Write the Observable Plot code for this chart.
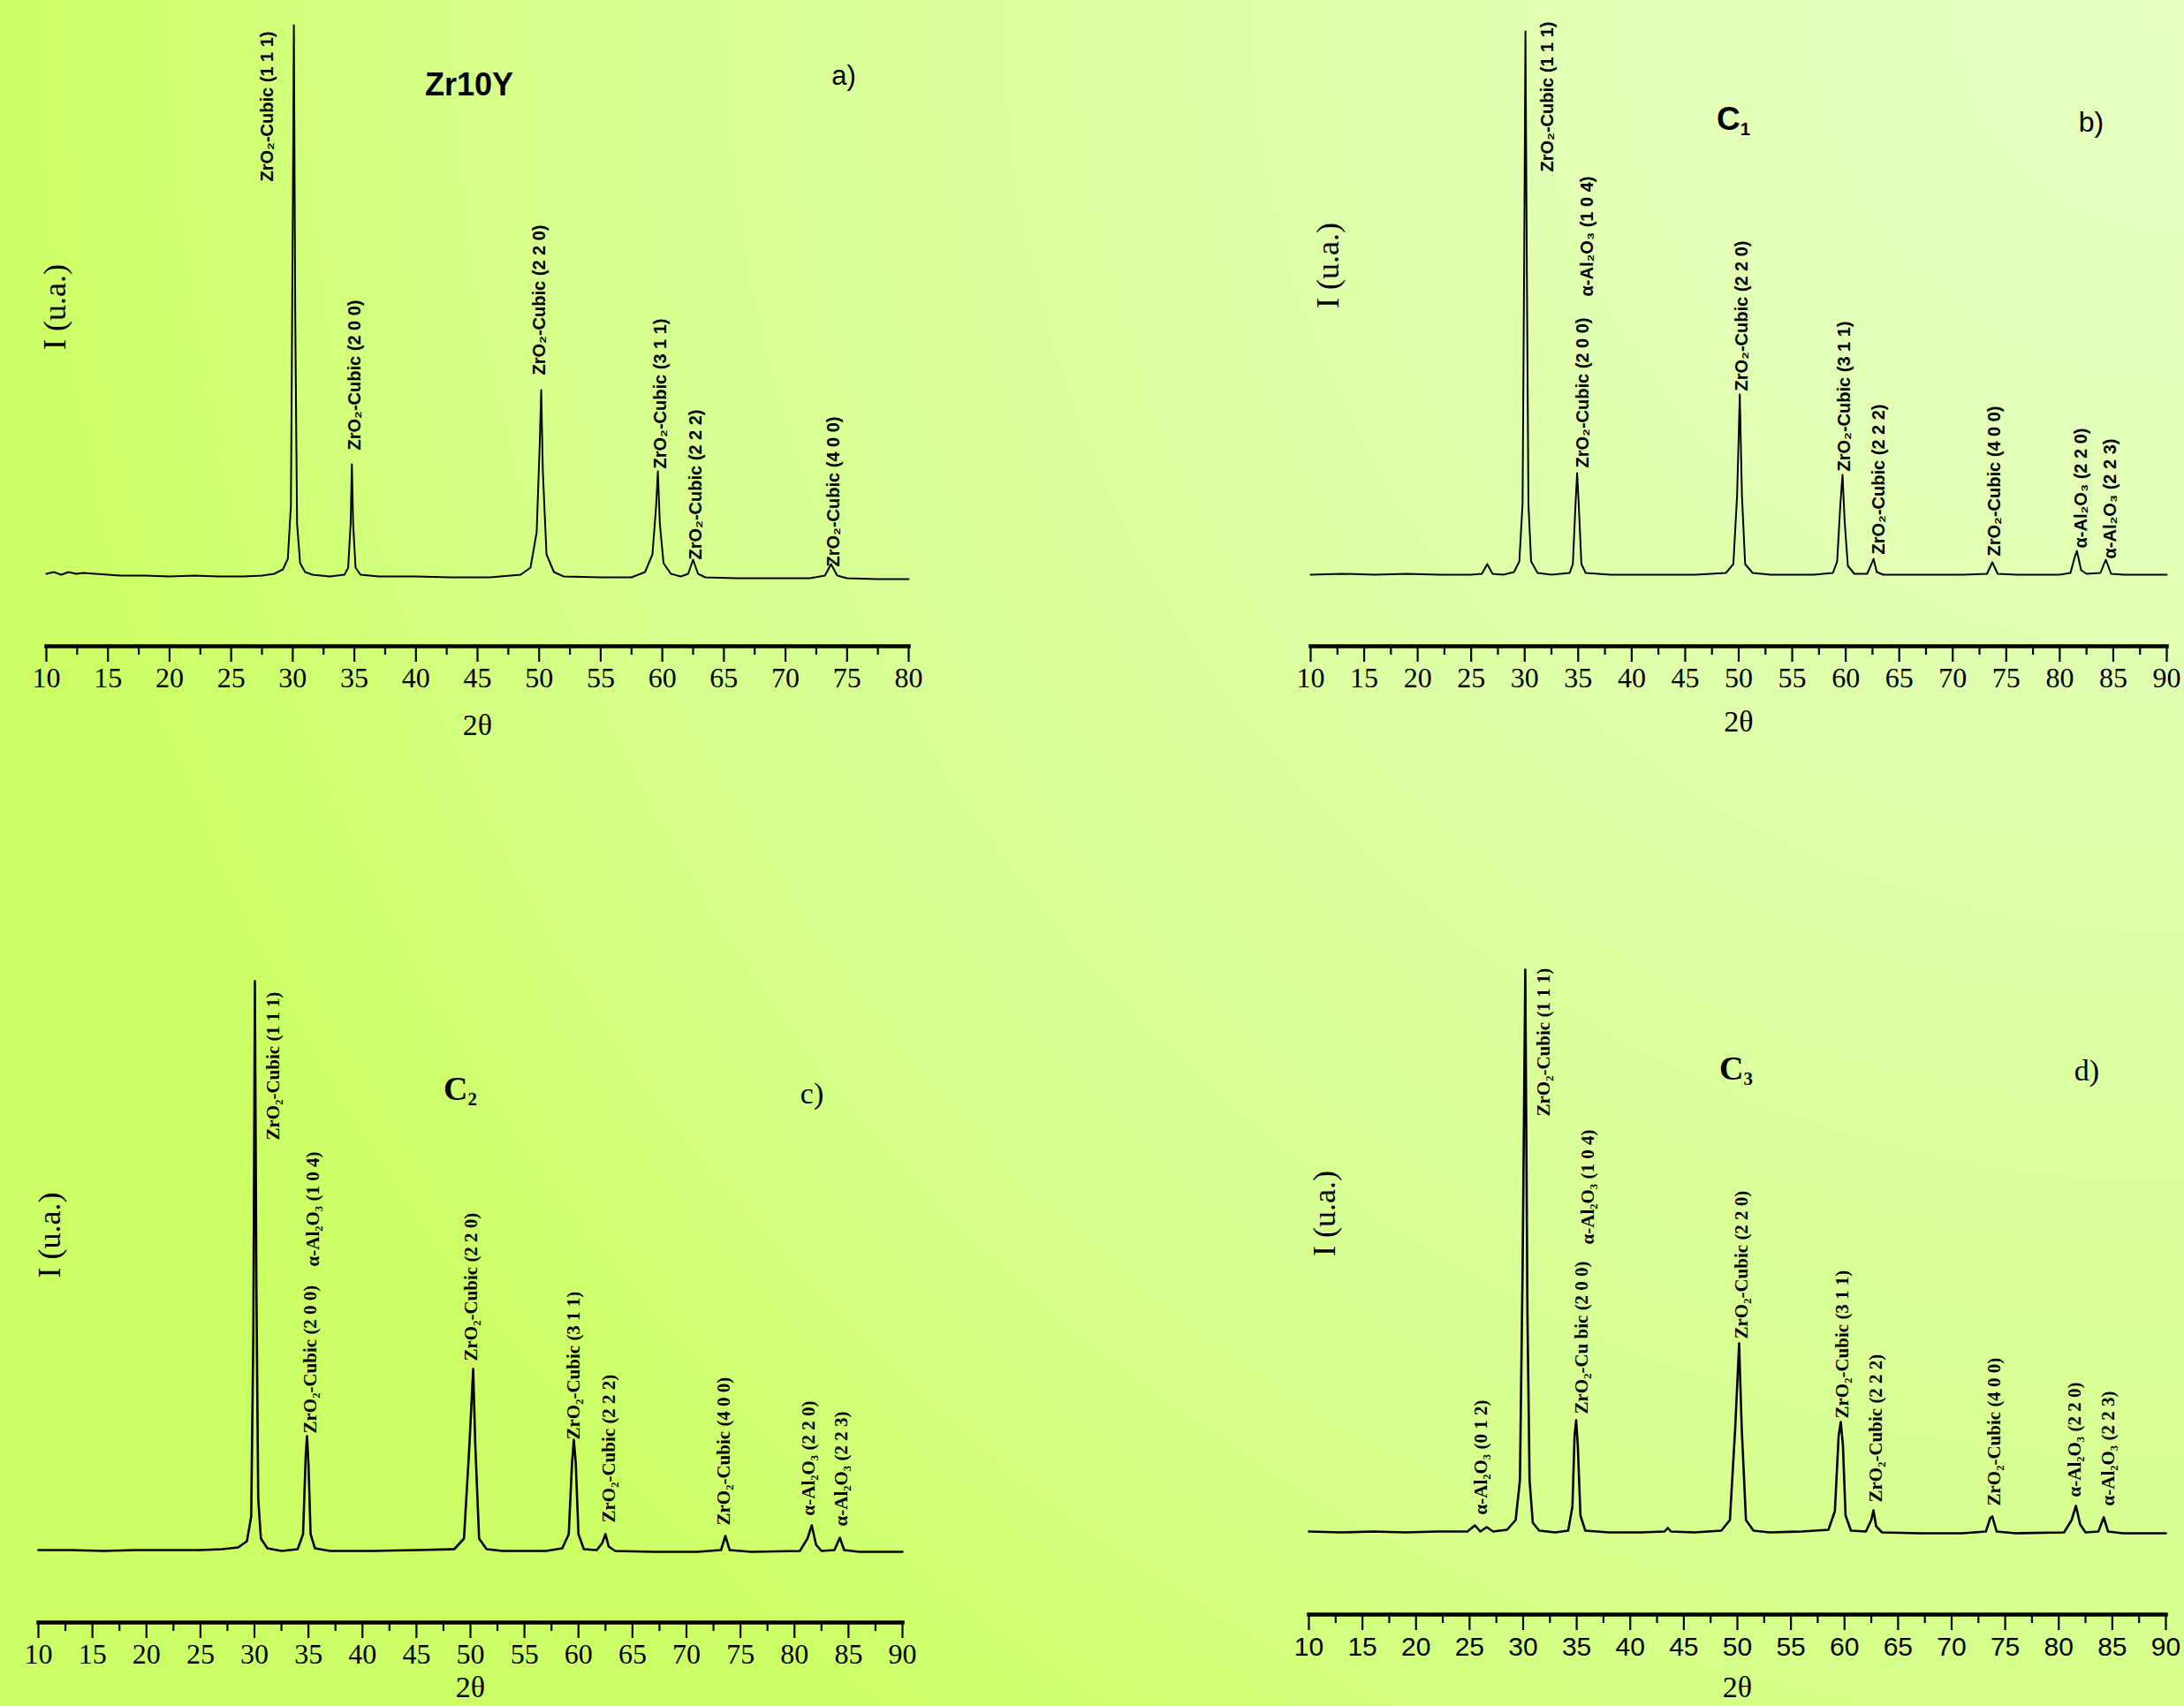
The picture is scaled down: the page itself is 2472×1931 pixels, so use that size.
<!DOCTYPE html>
<html><head><meta charset="utf-8">
<script src="https://cdn.jsdelivr.net/npm/d3@7"></script>
<script src="https://cdn.jsdelivr.net/npm/@observablehq/plot@0.6"></script>
<style>
html,body{margin:0;padding:0;}
body{width:2472px;height:1931px;overflow:hidden;}
#page{position:relative;width:2472px;height:1931px;overflow:hidden;
 background: radial-gradient(circle at 100% 0%, #e6ffc0 0px, #e3ffb6 600px, #d6ff8c 1900px, #ccff66 2450px);}
.panel{position:absolute;}
.title{position:absolute;transform:translate(-50%,-50%);white-space:nowrap;line-height:1;color:#000;}
.sans{font-family:"Liberation Sans",Arial,sans-serif;}
.serif{font-family:"Liberation Serif","Times New Roman",serif;}
sub{font-size:55%;vertical-align:-0.3em;}
</style></head>
<body><div id="page"></div>
<script>
// ---------- data ----------
const majorTicks80 = [10,15,20,25,30,35,40,45,50,55,60,65,70,75,80];
const minorTicks80 = [12.5,17.5,22.5,27.5,32.5,37.5,42.5,47.5,52.5,57.5,62.5,67.5,72.5,77.5];
const majorTicks90 = [10,15,20,25,30,35,40,45,50,55,60,65,70,75,80,85,90];
const minorTicks90 = [12.5,17.5,22.5,27.5,32.5,37.5,42.5,47.5,52.5,57.5,62.5,67.5,72.5,77.5,82.5,87.5];

// [2θ, intensity (a.u.)]
const scanA = [[10,3],[10.6,5],[11.2,2],[11.8,5],[12.4,3],[13,4],[14,3],[15,2],[16,1],[18,1],[20,0],[22,1],[24,0],[26,0],[27.5,1],[28.5,3],[29.2,8],[29.6,20],[29.85,80],[30.0,400],[30.09,624],[30.2,300],[30.35,60],[30.6,15],[31.0,5],[31.6,2],[33,0],[34.2,2],[34.5,10],[34.7,60],[34.8,127],[34.9,60],[35.1,10],[35.5,2],[37,0],[40,0],[43,-1],[46,-1],[48.5,2],[49.3,10],[49.8,50],[50.05,150],[50.17,211],[50.3,120],[50.6,25],[51.2,5],[52,0],[55,-1],[57.5,-1],[58.6,5],[59.2,25],[59.5,80],[59.64,119],[59.8,60],[60.1,15],[60.7,3],[61.5,0],[62.1,3],[62.5,19],[62.9,3],[63.5,-1],[66,-2],[69,-2],[72,-2],[73.2,1],[73.7,14],[74.2,1],[75,-2],[77.5,-3],[80,-3]];
const scanB = [[10,0],[13,1],[16,0],[19,1],[22,0],[25,0],[26,1],[26.5,12],[27,1],[28,0],[29,3],[29.5,15],[29.8,80],[29.95,350],[30.07,615],[30.2,350],[30.35,80],[30.6,15],[31.2,2],[32.5,0],[34.2,2],[34.5,12],[34.75,80],[34.9,115],[35.05,80],[35.3,12],[35.7,2],[38,0],[42,0],[46,0],[48.8,2],[49.5,12],[49.85,90],[50.1,204],[50.3,90],[50.6,12],[51.3,2],[53,0],[57,0],[58.8,2],[59.2,15],[59.5,80],[59.7,113],[59.9,60],[60.2,10],[60.8,1],[62.0,1],[62.4,12],[62.6,18],[62.9,3],[63.5,0],[67,0],[71,0],[73.2,1],[73.7,14],[74.2,1],[76,0],[80,0],[81.0,2],[81.4,20],[81.6,27],[82.0,5],[82.5,1],[83.8,2],[84.3,17],[84.8,1],[86,0],[90,0]];
const scanC = [[10,2],[13,2],[16,1],[19,2],[22,2],[25,2],[27,3],[28.5,5],[29.3,12],[29.7,40],[29.9,250],[30.04,646],[30.18,300],[30.35,60],[30.6,15],[31.2,4],[32.5,1],[34.0,3],[34.5,20],[34.75,110],[34.87,131],[35.0,100],[35.2,20],[35.6,4],[37,1],[41,1],[45,2],[48.5,3],[49.4,15],[49.9,120],[50.25,207],[50.45,120],[50.8,15],[51.5,3],[53,1],[57,1],[58.5,4],[59.1,20],[59.4,100],[59.57,127],[59.75,100],[60.0,20],[60.5,3],[61.7,2],[62.2,10],[62.5,20],[62.8,6],[63.4,1],[67,0],[71,0],[73.2,2],[73.6,18],[74.0,2],[76,0],[80.5,1],[81.2,15],[81.6,30],[82.0,8],[82.5,1],[83.7,2],[84.2,16],[84.6,2],[86,0],[90,0]];
const scanD = [[10,2],[13,1],[16,2],[19,1],[22,2],[24.8,2],[25.5,9],[26.0,2],[26.6,7],[27.2,2],[28.5,4],[29.3,15],[29.7,60],[29.95,300],[30.2,638],[30.4,250],[30.6,60],[30.9,12],[31.5,3],[33,1],[34.2,3],[34.6,30],[34.8,110],[34.95,128],[35.1,100],[35.35,20],[35.8,3],[38,1],[41,1],[43.2,2],[43.5,6],[43.8,2],[46,1],[48.5,3],[49.3,15],[49.8,120],[50.16,215],[50.4,120],[50.8,15],[51.5,3],[53,1],[56,2],[58.5,4],[59.1,25],[59.45,110],[59.65,126],[59.85,100],[60.1,20],[60.6,3],[62.0,2],[62.5,15],[62.7,26],[62.95,8],[63.5,1],[67,0],[71,0],[73.2,2],[73.6,17],[73.8,19],[74.2,2],[76,0],[80.5,1],[81.2,15],[81.6,31],[82.0,10],[82.5,1],[83.7,2],[84.2,18],[84.6,2],[86,0],[90,0]];

// peak labels: text, 2θ, intensity at label start
const labelsA = ["ZrO₂-Cubic (1 1 1)","ZrO₂-Cubic (2 0 0)","ZrO₂-Cubic (2 2 0)","ZrO₂-Cubic (3 1 1)","ZrO₂-Cubic (2 2 2)","ZrO₂-Cubic (4 0 0)"];
const labelThetaA = [27.93,35.04,50.03,59.86,62.73,73.92];
const labelIA = [447,143,228,122,19,11];

const labelsB = ["ZrO₂-Cubic (1 1 1)","ZrO₂-Cubic (2 0 0)","α-Al₂O₃ (1 0 4)","ZrO₂-Cubic (2 2 0)","ZrO₂-Cubic (3 1 1)","ZrO₂-Cubic (2 2 2)","ZrO₂-Cubic (4 0 0)","α-Al₂O₃ (2 2 0)","α-Al₂O₃ (2 2 3)"];
const labelThetaB = [32.11,35.47,35.88,50.29,59.88,63.07,73.88,81.99,84.69];
const labelIB = [456,121,315,208,117,23,21,30,18];

const labelsC = ["ZrO₂-Cubic (1 1 1)","ZrO₂-Cubic (2 0 0)","α-Al₂O₃ (1 0 4)","ZrO₂-Cubic (2 2 0)","ZrO₂-Cubic (3 1 1)","ZrO₂-Cubic (2 2 2)","ZrO₂-Cubic (4 0 0)","α-Al₂O₃ (2 2 0)","α-Al₂O₃ (2 2 3)"];
const labelThetaC = [31.76,35.19,35.44,50.08,59.57,62.84,73.48,81.33,84.36];
const labelIC = [466,134,323,216,127,33,30,41,29];

const labelsD = ["α-Al₂O₃ (0 1 2)","ZrO₂-Cubic (1 1 1)","ZrO₂-Cu bic (2 0 0)","α-Al₂O₃ (1 0 4)","ZrO₂-Cubic (2 2 0)","ZrO₂-Cubic (3 1 1)","ZrO₂-Cubic (2 2 2)","ZrO₂-Cubic (4 0 0)","α-Al₂O₃ (2 2 0)","α-Al₂O₃ (2 2 3)"];
const labelThetaD = [26.03,31.92,35.44,36.01,50.41,59.82,62.92,73.97,81.49,84.6];
const labelID = [21,472,135,327,220,130,35,31,41,31];

// ---------- drawing ----------
const page = document.getElementById("page");
const SANS = "Liberation Sans, Arial, DejaVu Sans, sans-serif";
const SERIF = "Liberation Serif, Times New Roman, DejaVu Serif, serif";

function panel(o) {
  const labels = o.labels.map((t, i) => ({t, x: o.lx[i], y: o.ly[i]}));
  const svg = Plot.plot({
    width: o.width, height: o.height,
    marginLeft: o.ml, marginRight: o.mr, marginTop: 0, marginBottom: o.mb,
    x: {domain: o.xDomain},
    y: {domain: o.yDomain, axis: null},
    style: {background: "transparent", overflow: "visible"},
    marks: [
      Plot.line(o.scan, {x: d => d[0], y: d => d[1], stroke: "#000", strokeWidth: o.lineWidth, strokeLinejoin: "round"}),
      Plot.text(labels, {x: "x", y: "y", text: "t", rotate: -90, textAnchor: "start", lineAnchor: "middle",
        fontSize: o.labelSize, fontWeight: "bold", fontFamily: o.labelFont, fill: "#000"}),
      Plot.axisX({ticks: o.minor, tickSize: 10, tickFormat: () => "", label: null, strokeWidth: 2.2, stroke: "#000"}),
      Plot.axisX({ticks: o.major, tickSize: 18, tickPadding: o.tickPad, label: null, strokeWidth: 2.2, stroke: "#000",
        fontSize: o.tickSize, fontFamily: o.tickFont, fill: "#000"}),
      Plot.frame({anchor: "bottom", strokeWidth: 4.5, stroke: "#000"}),
      Plot.text(["2θ"], {frameAnchor: "bottom", dy: o.xLabDy, fontSize: 34, fontFamily: SERIF, fill: "#000"}),
      Plot.text(["I (u.a.)"], {frameAnchor: "left", rotate: -90, dx: o.yLabDx, dy: o.yLabDy, fontSize: 36, fontFamily: SERIF, fill: "#000"})
    ]
  });
  svg.classList.add("panel");
  svg.style.left = o.left + "px";
  svg.style.top = o.top + "px";
  svg.style.maxWidth = "none";
  page.appendChild(svg);
}

panel({left: 0, top: 0, width: 1100, height: 880, ml: 52, mr: 72, mb: 149,
  xDomain: [10, 80], yDomain: [-79, 652], scan: scanA, lineWidth: 2,
  labels: labelsA, lx: labelThetaA, ly: labelIA, labelSize: 20, labelFont: SANS,
  major: majorTicks80, minor: minorTicks80, tickPad: 6, tickSize: 32, tickFont: SERIF,
  xLabDy: 100, yLabDx: 10, yLabDy: 30});

panel({left: 1440, top: 0, width: 1032, height: 880, ml: 43, mr: 20, mb: 149,
  xDomain: [10, 90], yDomain: [-81, 650], scan: scanB, lineWidth: 2,
  labels: labelsB, lx: labelThetaB, ly: labelIB, labelSize: 20, labelFont: SANS,
  major: majorTicks90, minor: minorTicks90, tickPad: 6, tickSize: 32, tickFont: SERIF,
  xLabDy: 96, yLabDx: 20, yLabDy: -17});

panel({left: 0, top: 1080, width: 1100, height: 851, ml: 43, mr: 79, mb: 95,
  xDomain: [10, 90], yDomain: [-80, 676], scan: scanC, lineWidth: 2.6,
  labels: labelsC, lx: labelThetaC, ly: labelIC, labelSize: 21, labelFont: SERIF,
  major: majorTicks90, minor: minorTicks90, tickPad: 6, tickSize: 32, tickFont: SERIF,
  xLabDy: 84, yLabDx: 13, yLabDy: -12});

panel({left: 1440, top: 1080, width: 1032, height: 851, ml: 41, mr: 21, mb: 104,
  xDomain: [10, 90], yDomain: [-92, 655], scan: scanD, lineWidth: 2.6,
  labels: labelsD, lx: labelThetaD, ly: labelID, labelSize: 21, labelFont: SERIF,
  major: majorTicks90, minor: minorTicks90, tickPad: 7, tickSize: 30, tickFont: SANS,
  xLabDy: 93, yLabDx: 18, yLabDy: -32});

// panel titles
const titles = [
  {html: "Zr10Y", x: 531, y: 96, cls: "sans", size: 36, bold: true},
  {html: "a)", x: 955, y: 85, cls: "sans", size: 31, bold: false},
  {html: "C<sub>1</sub>", x: 1962, y: 136, cls: "sans", size: 37, bold: true},
  {html: "b)", x: 2367, y: 138, cls: "sans", size: 32, bold: false},
  {html: "C<sub>2</sub>", x: 521, y: 1234, cls: "serif", size: 38, bold: true},
  {html: "c)", x: 919, y: 1238, cls: "serif", size: 34, bold: false},
  {html: "C<sub>3</sub>", x: 1965, y: 1211, cls: "serif", size: 38, bold: true},
  {html: "d)", x: 2362, y: 1212, cls: "serif", size: 34, bold: false}
];
for (const t of titles) {
  const d = document.createElement("div");
  d.className = "title " + t.cls;
  d.innerHTML = t.html;
  d.style.left = t.x + "px";
  d.style.top = t.y + "px";
  d.style.fontSize = t.size + "px";
  d.style.fontWeight = t.bold ? "bold" : "normal";
  page.appendChild(d);
}
</script></body></html>
